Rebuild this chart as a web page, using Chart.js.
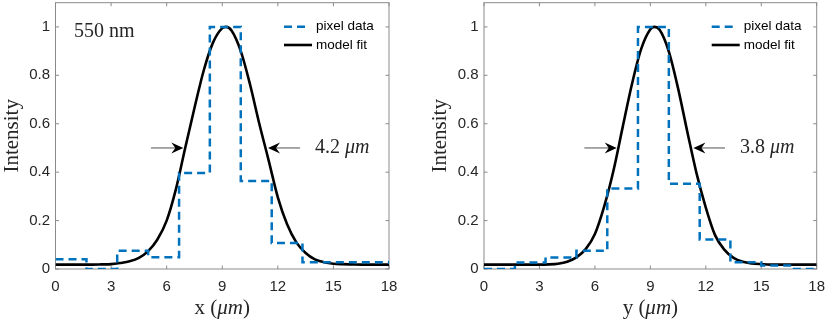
<!DOCTYPE html>
<html><head><meta charset="utf-8">
<script src="https://cdn.jsdelivr.net/npm/chart.js@4/dist/chart.umd.min.js"></script>
<style>
html,body{margin:0;padding:0;background:#fff;}
#wrap{position:relative;width:830px;height:323px;overflow:hidden;}
canvas{position:absolute;top:0;}
</style></head><body>
<div id="wrap">
<canvas id="cx" width="415" height="323" style="left:0"></canvas>
<canvas id="cy" width="415" height="323" style="left:415px"></canvas>
</div>
<script>
// ---- data ----
const binEdges = [0, 1.67, 3.33, 5, 6.67, 8.33, 10, 11.67, 13.33, 15, 16.67, 18];
const pixelX = [0.040, 0.000, 0.075, 0.049, 0.397, 1.000, 0.364, 0.107, 0.028, 0.028, 0.028];
const pixelY = [0.000, 0.027, 0.048, 0.075, 0.333, 1.000, 0.352, 0.122, 0.028, 0.014, 0.000];
const fitPos = [0, 0.5, 1, 1.5, 2, 2.5, 3, 3.5, 4, 4.5, 5, 5.5, 6, 6.5, 7, 7.5, 8, 8.5, 9, 9.2, 9.5,
                10, 10.5, 11, 11.5, 12, 12.5, 13, 13.5, 14, 14.5, 15, 15.5, 16, 16.5, 17, 17.5, 18];
const fitX = [0.018, 0.018, 0.018, 0.018, 0.018, 0.019, 0.020, 0.025, 0.032, 0.046, 0.074, 0.122, 0.200, 0.330, 0.500, 0.665, 0.820, 0.935, 0.995, 1.000, 0.985,
              0.900, 0.762, 0.600, 0.450, 0.296, 0.185, 0.110, 0.066, 0.040, 0.028, 0.022, 0.020, 0.019, 0.018, 0.018, 0.018, 0.018];
const fitY = [0.018, 0.018, 0.018, 0.018, 0.018, 0.018, 0.018, 0.019, 0.022, 0.030, 0.048, 0.082, 0.145, 0.258, 0.405, 0.585, 0.762, 0.908, 0.990, 1.000, 0.988,
              0.898, 0.746, 0.567, 0.395, 0.254, 0.140, 0.080, 0.046, 0.030, 0.023, 0.020, 0.018, 0.018, 0.018, 0.018, 0.018, 0.018];
const xTicks = [0, 3, 6, 9, 12, 15, 18];
const yTicks = [0, 0.2, 0.4, 0.6, 0.8, 1];
const seriesNames = ['pixel data', 'model fit'];
const axisNames = ['x', 'y'];
const widthLabels = ['4.2', '3.8'];
const wavelengthLabel = '550 nm';
// arrows in data units: [fromX, toX] at level 0.5
const arrowsX = [[5.15, 6.9], [13.2, 11.47]];
const arrowsY = [[5.43, 7.18], [13.04, 11.33]];
const arrowLevel = 0.5;
const widthLabelX = [14.0, 13.85];

const BLUE = '#0072BD';
const AXIS = '#8a8a8a';
const TXT = '#262626';
const SANS = '"Liberation Sans", Arial, sans-serif';
const SERIF = '"Liberation Serif", "Times New Roman", serif';

function stepPoints(vals) {
  const pts = vals.map((v, i) => ({x: binEdges[i], y: v}));
  pts.push({x: binEdges[binEdges.length - 1], y: vals[vals.length - 1]});
  return pts;
}
function curvePoints(vals) { return vals.map((v, i) => ({x: fitPos[i], y: v})); }

function drawMixed(ctx, parts, cx, cy, size) {
  let total = 0;
  const w = parts.map(p => { ctx.font = p[1] + ' ' + size + 'px ' + SERIF; const m = ctx.measureText(p[0]).width; total += m; return m; });
  let x = cx - total / 2;
  ctx.textAlign = 'left'; ctx.textBaseline = 'middle';
  parts.forEach((p, i) => { ctx.font = p[1] + ' ' + size + 'px ' + SERIF; ctx.fillText(p[0], x, cy); x += w[i]; });
}
function drawMixedLeft(ctx, parts, x, cy, size) {
  ctx.textAlign = 'left'; ctx.textBaseline = 'middle';
  parts.forEach(p => { ctx.font = p[1] + ' ' + size + 'px ' + SERIF; ctx.fillText(p[0], x, cy); x += ctx.measureText(p[0]).width; });
}
function arrow(ctx, x0, x1, y) {
  const dir = Math.sign(x1 - x0);
  ctx.strokeStyle = '#7a7a7a'; ctx.lineWidth = 1.3; ctx.setLineDash([]);
  ctx.beginPath(); ctx.moveTo(x0, y); ctx.lineTo(x1 - dir * 6, y); ctx.stroke();
  ctx.fillStyle = '#000';
  ctx.beginPath();
  ctx.moveTo(x1, y);
  ctx.lineTo(x1 - dir * 12, y - 5.5);
  ctx.lineTo(x1 - dir * 8, y);
  ctx.lineTo(x1 - dir * 12, y + 5.5);
  ctx.closePath(); ctx.fill();
}

function makeDeco(idx) {
  return {
    id: 'deco' + idx,
    beforeDatasetsDraw(chart) {
      const {ctx, chartArea: a, scales: {x, y}} = chart;
      ctx.save();
      ctx.strokeStyle = AXIS; ctx.lineWidth = 1;
      ctx.beginPath();
      xTicks.forEach(v => {
        const px = x.getPixelForValue(v);
        ctx.moveTo(px, a.bottom); ctx.lineTo(px, a.bottom - 3.5);
        ctx.moveTo(px, a.top); ctx.lineTo(px, a.top + 3.5);
      });
      yTicks.forEach(v => {
        const py = y.getPixelForValue(v);
        ctx.moveTo(a.left, py); ctx.lineTo(a.left + 3.5, py);
        ctx.moveTo(a.right, py); ctx.lineTo(a.right - 3.5, py);
      });
      ctx.stroke();
      ctx.strokeRect(a.left, a.top, a.right - a.left, a.bottom - a.top);
      ctx.restore();
    },
    afterDraw(chart) {
      const {ctx, chartArea: a, scales: {x, y}} = chart;
      ctx.save();
      ctx.fillStyle = TXT;
      // axis titles
      drawMixed(ctx, [[axisNames[idx] + ' (', 'normal'], ['\u03bcm', 'italic'], [')', 'normal']],
                x.getPixelForValue(9), a.bottom + 39, 21);
      ctx.save();
      ctx.translate(a.left - 43.5, (a.top + a.bottom) / 2);
      ctx.rotate(-Math.PI / 2);
      ctx.font = '21px ' + SERIF; ctx.textAlign = 'center'; ctx.textBaseline = 'middle';
      ctx.fillText('Intensity', 0, 0);
      ctx.restore();
      // wavelength label (left panel only)
      if (idx === 0) {
        ctx.font = '20px ' + SERIF; ctx.textAlign = 'left'; ctx.textBaseline = 'middle';
        ctx.fillText(wavelengthLabel, x.getPixelForValue(1.0), y.getPixelForValue(0.978));
      }
      // arrows
      const arr = idx === 0 ? arrowsX : arrowsY;
      const py = y.getPixelForValue(arrowLevel);
      arr.forEach(p => arrow(ctx, x.getPixelForValue(p[0]), x.getPixelForValue(p[1]), py));
      ctx.fillStyle = TXT;
      drawMixedLeft(ctx, [[widthLabels[idx] + ' ', 'normal'], ['\u03bcm', 'italic']],
                    x.getPixelForValue(widthLabelX[idx]), py, 20);
      // legend
      const ds = chart.data.datasets;
      const sx = a.right - 105, tx = a.right - 73;
      const rows = [a.top + 24, a.top + 42.3];
      ds.forEach((d, i) => {
        ctx.strokeStyle = d.borderColor; ctx.lineWidth = d.borderWidth;
        ctx.setLineDash(d.borderDash || []);
        ctx.beginPath(); ctx.moveTo(sx, rows[i]); ctx.lineTo(sx + (i === 0 ? 23 : 28), rows[i]); ctx.stroke();
        ctx.setLineDash([]);
        ctx.fillStyle = '#000'; ctx.font = '13.5px ' + SANS; ctx.textAlign = 'left'; ctx.textBaseline = 'middle';
        ctx.fillText(d.label, tx, rows[i]);
      });
      ctx.restore();
    }
  };
}

function makeChart(id, idx, steps, fit, leftW, rightPad) {
  return new Chart(document.getElementById(id), {
    type: 'line',
    data: {
      datasets: [
        {label: seriesNames[0], data: stepPoints(steps), stepped: 'before', borderColor: BLUE, borderWidth: 2.5,
         borderDash: [8, 5], pointRadius: 0, fill: false},
        {label: seriesNames[1], data: curvePoints(fit), cubicInterpolationMode: 'monotone', borderColor: '#000',
         borderWidth: 2.6, pointRadius: 0, fill: false}
      ]
    },
    options: {
      responsive: false, animation: false, devicePixelRatio: 1,
      layout: {padding: {left: 0, right: rightPad, top: 2.7, bottom: 0}},
      plugins: {legend: {display: false}, tooltip: {enabled: false}},
      scales: {
        x: {type: 'linear', min: 0, max: 18,
            afterBuildTicks: s => { s.ticks = xTicks.map(v => ({value: v})); },
            afterFit: s => { s.height = 54; s.paddingLeft = 0; s.paddingRight = 0; s.paddingTop = 0; s.paddingBottom = 0; },
            grid: {display: false, drawTicks: false}, border: {display: false},
            ticks: {font: {family: SANS, size: 15}, color: TXT, padding: 9, maxRotation: 0, autoSkip: false,
                    callback: v => String(v)}},
        y: {type: 'linear', min: 0, max: 1.1,
            afterBuildTicks: s => { s.ticks = yTicks.map(v => ({value: v})); },
            afterFit: s => { s.width = leftW; s.paddingLeft = 0; s.paddingRight = 0; s.paddingTop = 0; s.paddingBottom = 0; },
            grid: {display: false, drawTicks: false}, border: {display: false},
            ticks: {font: {family: SANS, size: 15}, color: TXT, padding: 5.5, autoSkip: false,
                    callback: v => String(v)}}
      }
    },
    plugins: [makeDeco(idx)]
  });
}

makeChart('cx', 0, pixelX, fitX, 55.5, 26);
makeChart('cy', 1, pixelY, fitY, 69, 13.3);
</script>
</body></html>
